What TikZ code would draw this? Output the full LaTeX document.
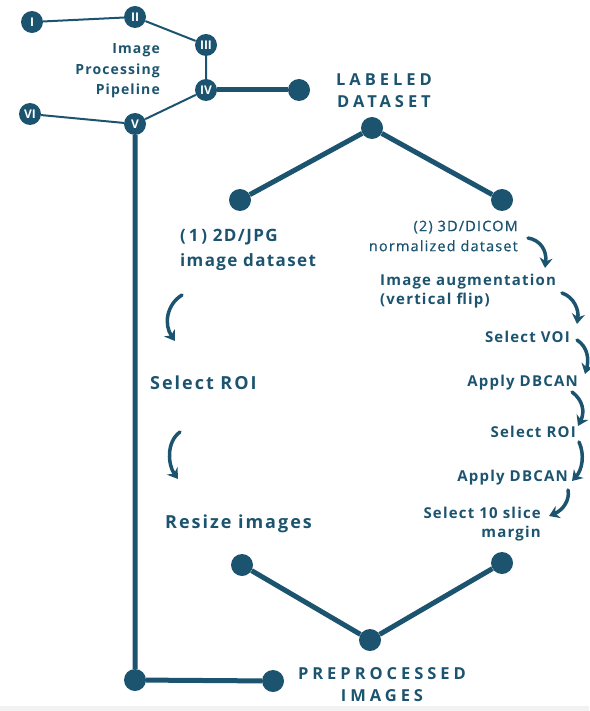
\documentclass[tikz,border=0pt]{standalone}
\usepackage{fontspec}
\setmainfont{Open Sans}
\newfontfamily\spacedfont[LetterSpace=8]{Open Sans}
\newfontfamily\loosefont[LetterSpace=11]{Open Sans}
\newfontfamily\widefont[LetterSpace=24]{Open Sans}
\usepackage{tikz}
\usetikzlibrary{arrows.meta,calc,positioning}
\definecolor{pipeblue}{RGB}{28,84,112}

\tikzset{
  num/.style={circle, fill=pipeblue, text=white, inner sep=0pt, minimum size=22pt,
    font=\bfseries\fontsize{12}{12}\selectfont},
  dot/.style={circle, fill=pipeblue, inner sep=0pt, minimum size=22pt},
  thinlink/.style={draw=pipeblue, line width=2pt},
  link/.style={draw=pipeblue, line width=5pt},
  turn/.style={draw=pipeblue, line width=3.5pt, line cap=round,
    -{Stealth[length=10pt,width=13pt]}},
  bigtxt/.style={text=pipeblue, inner sep=0pt, font=\loosefont\bfseries\fontsize{18}{25}\selectfont},
  smalltxt/.style={text=pipeblue, inner sep=0pt, font=\spacedfont\bfseries\fontsize{15}{19}\selectfont},
  titletxt/.style={text=pipeblue, inner sep=0pt, align=center,
    font=\widefont\bfseries\fontsize{16.5}{22}\selectfont}
}

\begin{document}
\begin{tikzpicture}[x=1pt,y=-1pt]
  \useasboundingbox (0,0) rectangle (589,711);
  \fill[gray!10] (0,706) rectangle (589,711);

  % Pipeline nodes
  \node[num] (n1) at (32,22) {I};
  \node[num] (n2) at (135,17) {II};
  \node[num] (n3) at (206,45) {III};
  \node[num] (n4) at (206,90) {IV};
  \node[num] (n5) at (135,124) {V};
  \node[num] (n6) at (30,114) {VI};
  \node[text=pipeblue, inner sep=0pt, anchor=east, align=right,
    font=\spacedfont\bfseries\fontsize{14}{20.5}\selectfont] (pipe) at (160,71)
    {Image\\Processing\\Pipeline};
  \draw[thinlink] (n1) -- (n2) -- (n3) -- (n4) -- (n5) -- (n6);

  % Dots
  \node[dot] (lab dot) at (299,90) {};
  \node[dot] (top) at (372,128) {};
  \node[dot] (left up) at (240,200) {};
  \node[dot] (right up) at (502,200) {};
  \node[dot] (left down) at (242,565) {};
  \node[dot] (right down) at (502,563) {};
  \node[dot] (bottom) at (370,640) {};
  \node[dot] (corner) at (135,680) {};
  \node[dot] (pre dot) at (273,681) {};

  % Connectors
  \draw[link] (n4) -- (lab dot);
  \draw[link] (n5) -- (corner) -- (pre dot);
  \draw[link] (left up) -- (top) -- (right up);
  \draw[link] (left down) -- (bottom) -- (right down);

  % Titles
  \node[titletxt] (labeled) at (384,91) {LABELED\\DATASET};
  \node[titletxt] (preproc) at (382,685) {PREPROCESSED\\IMAGES};

  % Left branch
  \node[text=pipeblue, inner sep=0pt, anchor=west, align=left,
    font=\spacedfont\bfseries\fontsize{17}{25}\selectfont] (jpg) at (180,250)
    {(\,1\,) 2D/JPG\\image dataset};
  \node[bigtxt, anchor=west] (roi left) at (150,383) {Select ROI};
  \node[bigtxt, anchor=west] (resize) at (165,524) {Resize images};
  \draw[turn] (182,295) .. controls (166,305) and (164,325) .. (175,341);
  \draw[turn] (180,432) .. controls (166,442) and (168,465) .. (178,479);

  % Right branch
  \node[text=pipeblue, inner sep=0pt, anchor=east, align=right,
    font=\spacedfont\fontsize{14.5}{20}\selectfont\addfontfeatures{FakeBold=0.6}] (dicom) at (518,236)
    {(2) 3D/DICOM\\normalized dataset};
  \node[smalltxt, anchor=west, align=left] (aug) at (380,291) {Image augmentation\\(vertical flip)};
  \node[smalltxt, anchor=east] (voi) at (570,337) {Select VOI};
  \node[smalltxt, anchor=east] (db1) at (578,383) {Apply DBCAN};
  \node[smalltxt, anchor=east] (roi right) at (576,432) {Select ROI};
  \node[smalltxt, anchor=east] (db2) at (568,478) {Apply DBCAN};
  \node[smalltxt, anchor=east, align=right] (slice) at (541,524) {Select 10 slice\\margin};
  \draw[turn] (528,238) .. controls (540,240) and (547,250) .. (545,268);
  \draw[turn] (562,293) .. controls (574,297) and (579,310) .. (577,324);
  \draw[turn] (577,340) .. controls (588,347) and (589,360) .. (585,374);
  \draw[turn] (572,392) .. controls (583,400) and (585,412) .. (578,426);
  \draw[turn] (579,442) .. controls (585,455) and (582,470) .. (572,481);
  \draw[turn] (568,490) .. controls (570,500) and (563,510) .. (549,516);
\end{tikzpicture}
\end{document}
